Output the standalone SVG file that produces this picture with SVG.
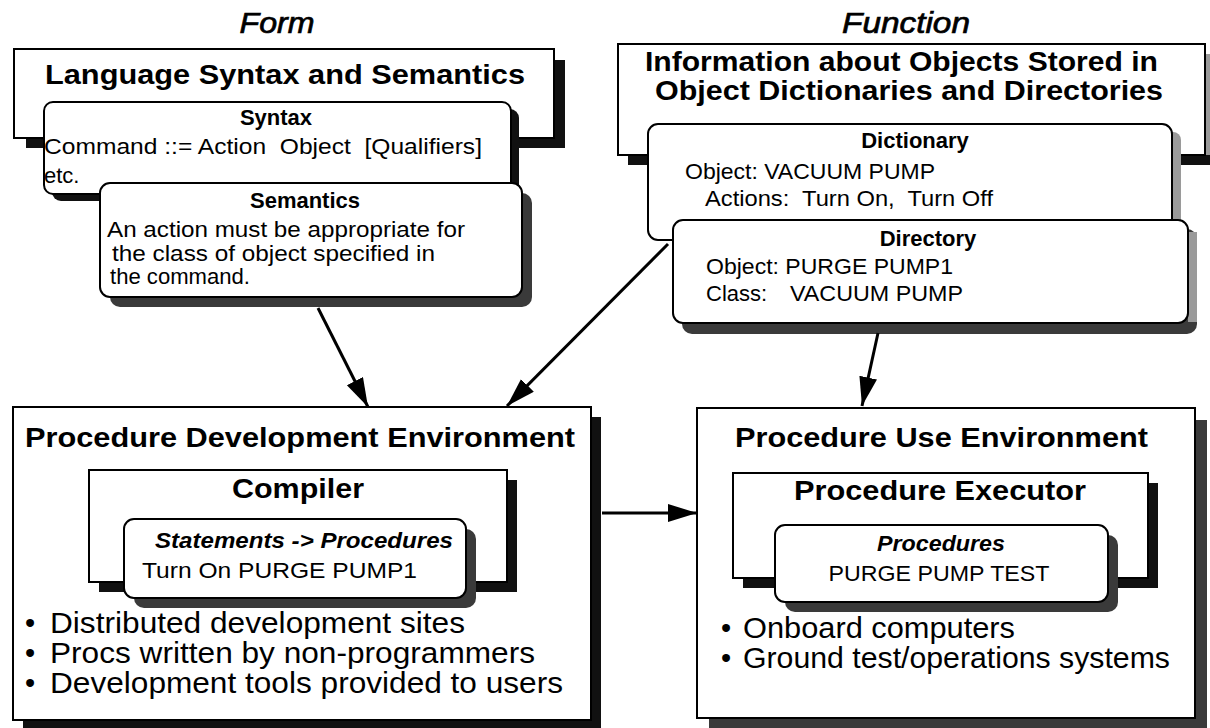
<svg xmlns="http://www.w3.org/2000/svg" width="1210" height="728" viewBox="0 0 1210 728">
<style>
text{font-family:"Liberation Sans",Arial,Helvetica,sans-serif;fill:#000}
.box{fill:#fff;stroke:#000;stroke-width:2}
.sk{fill:#111}
.sd{fill:#3a3a3a}
.sg{fill:#9a9a9a}
.t30{font-size:28px;font-weight:bold}
.h22{font-size:22px;font-weight:bold}
.b23{font-size:22px}
.bi{font-size:22px;font-weight:bold;font-style:italic}
.it{font-size:30px;font-style:italic;stroke:#000;stroke-width:0.7}
.bul{font-size:29px}
.mid{text-anchor:middle}
.conn{stroke:#000;stroke-width:3;fill:none}
</style>
<defs>
<marker id="ah" markerUnits="userSpaceOnUse" markerWidth="32" markerHeight="20" refX="29" refY="9" orient="auto"><path d="M0,0 L29,9 L0,18 Z" fill="#000"/></marker>
</defs>
<rect x="0" y="0" width="1210" height="728" fill="#fff"/>

<g id="label-form"><text class="it mid" x="277" y="33" textLength="75" lengthAdjust="spacingAndGlyphs">Form</text></g>
<g id="label-function"><text class="it mid" x="906" y="33" textLength="128" lengthAdjust="spacingAndGlyphs">Function</text></g>

<g id="node-language">
<rect class="sk" x="26" y="60" width="539" height="88"/>
<rect class="box" x="14" y="49" width="540" height="89"/>
<text class="t30" x="45" y="84" textLength="480" lengthAdjust="spacingAndGlyphs">Language Syntax and Semantics</text>
</g>
<g id="node-syntax">
<rect class="sk" x="52" y="109" width="467" height="92" rx="9"/>
<rect class="box" x="44" y="102" width="467" height="92" rx="9"/>
<text class="h22 mid" x="276" y="125">Syntax</text>
<text class="b23" x="44" y="154" xml:space="preserve" textLength="438" lengthAdjust="spacingAndGlyphs">Command ::= Action  Object  [Qualifiers]</text>
<text class="b23" x="44" y="183">etc.</text>
</g>
<g id="node-semantics">
<rect class="sd" x="110" y="193" width="422" height="114" rx="10"/>
<rect class="box" x="100" y="183" width="422" height="114" rx="10"/>
<text class="h22 mid" x="305" y="208">Semantics</text>
<text class="b23" x="107" y="237" textLength="358" lengthAdjust="spacingAndGlyphs">An action must be appropriate for</text>
<text class="b23" x="112" y="261" textLength="323" lengthAdjust="spacingAndGlyphs">the class of object specified in</text>
<text class="b23" x="110" y="284" textLength="140" lengthAdjust="spacingAndGlyphs">the command.</text>
</g>

<g id="node-info">
<rect class="sg" x="1205" y="54" width="10" height="111"/>
<rect class="sk" x="628" y="155" width="587" height="10"/>
<rect class="box" x="618" y="44" width="587" height="111"/>
<text class="t30" x="645" y="71" textLength="513" lengthAdjust="spacingAndGlyphs">Information about Objects Stored in</text>
<text class="t30" x="655" y="100" textLength="508" lengthAdjust="spacingAndGlyphs">Object Dictionaries and Directories</text>
</g>
<g id="node-dictionary">
<rect class="sg" x="1160" y="132" width="21" height="100" rx="8"/>
<rect class="box" x="648" y="124" width="524" height="116" rx="10"/>
<text class="h22 mid" x="915" y="148">Dictionary</text>
<text class="b23" x="685" y="179" textLength="250" lengthAdjust="spacingAndGlyphs">Object: VACUUM PUMP</text>
<text class="b23" x="705" y="206" xml:space="preserve" textLength="288" lengthAdjust="spacingAndGlyphs">Actions:  Turn On,  Turn Off</text>
</g>
<g id="node-directory">
<rect class="sd" x="682" y="229" width="515" height="105" rx="10"/>
<rect class="sg" x="1188" y="232" width="9" height="90"/>
<rect class="box" x="673" y="220" width="515" height="103" rx="10"/>
<text class="h22 mid" x="928" y="246">Directory</text>
<text class="b23" x="706" y="274" textLength="247" lengthAdjust="spacingAndGlyphs">Object: PURGE PUMP1</text>
<text class="b23" x="706" y="301">Class:<tspan x="790" textLength="173" lengthAdjust="spacingAndGlyphs">VACUUM PUMP</tspan></text>
</g>

<g id="node-dev">
<rect class="sk" x="23" y="417" width="578" height="313"/>
<rect class="box" x="13" y="407" width="578" height="313"/>
<text class="t30" x="25" y="447" textLength="550" lengthAdjust="spacingAndGlyphs">Procedure Development Environment</text>
<text class="bul" x="25" y="633">•</text>
<text class="bul" x="50" y="633" textLength="415" lengthAdjust="spacingAndGlyphs">Distributed development sites</text>
<text class="bul" x="25" y="663">•</text>
<text class="bul" x="50" y="663" textLength="485" lengthAdjust="spacingAndGlyphs">Procs written by non-programmers</text>
<text class="bul" x="25" y="693">•</text>
<text class="bul" x="50" y="693" textLength="513" lengthAdjust="spacingAndGlyphs">Development tools provided to users</text>
</g>
<g id="node-compiler">
<rect class="sk" x="99" y="480" width="418" height="112"/>
<rect class="box" x="89" y="470" width="418" height="112"/>
<text class="t30 mid" x="298" y="498" textLength="132" lengthAdjust="spacingAndGlyphs">Compiler</text>
</g>
<g id="node-statements">
<rect class="sd" x="134" y="529" width="342" height="79" rx="10"/>
<rect class="box" x="124" y="519" width="342" height="79" rx="10"/>
<text class="bi" x="155" y="548" textLength="298" lengthAdjust="spacingAndGlyphs">Statements -&gt; Procedures</text>
<text class="b23" x="142" y="578" textLength="275" lengthAdjust="spacingAndGlyphs">Turn On PURGE PUMP1</text>
</g>

<g id="node-use">
<rect class="sd" x="709" y="420" width="498" height="310"/>
<rect class="box" x="697" y="408" width="498" height="310"/>
<text class="t30" x="735" y="447" textLength="413" lengthAdjust="spacingAndGlyphs">Procedure Use Environment</text>
<text class="bul" x="721" y="638">•</text>
<text class="bul" x="743" y="638" textLength="272" lengthAdjust="spacingAndGlyphs">Onboard computers</text>
<text class="bul" x="721" y="668">•</text>
<text class="bul" x="743" y="668" textLength="427" lengthAdjust="spacingAndGlyphs">Ground test/operations systems</text>
</g>
<g id="node-executor">
<rect class="sk" x="743" y="483" width="415" height="105"/>
<rect class="box" x="733" y="473" width="415" height="105"/>
<text class="t30 mid" x="940" y="500" textLength="292" lengthAdjust="spacingAndGlyphs">Procedure Executor</text>
</g>
<g id="node-procedures">
<rect class="sd" x="785" y="535" width="333" height="77" rx="10"/>
<rect class="box" x="775" y="525" width="333" height="77" rx="10"/>
<text class="bi mid" x="941" y="551" textLength="128" lengthAdjust="spacingAndGlyphs">Procedures</text>
<text class="b23 mid" x="939" y="581" textLength="221" lengthAdjust="spacingAndGlyphs">PURGE PUMP TEST</text>
</g>

<g id="connectors">
<line class="conn" x1="318" y1="308" x2="368" y2="407" marker-end="url(#ah)"/>
<line class="conn" x1="668" y1="244" x2="507" y2="406" marker-end="url(#ah)"/>
<line class="conn" x1="878" y1="333" x2="862" y2="406" marker-end="url(#ah)"/>
<line class="conn" x1="602" y1="513" x2="697" y2="513" marker-end="url(#ah)"/>
</g>
</svg>
